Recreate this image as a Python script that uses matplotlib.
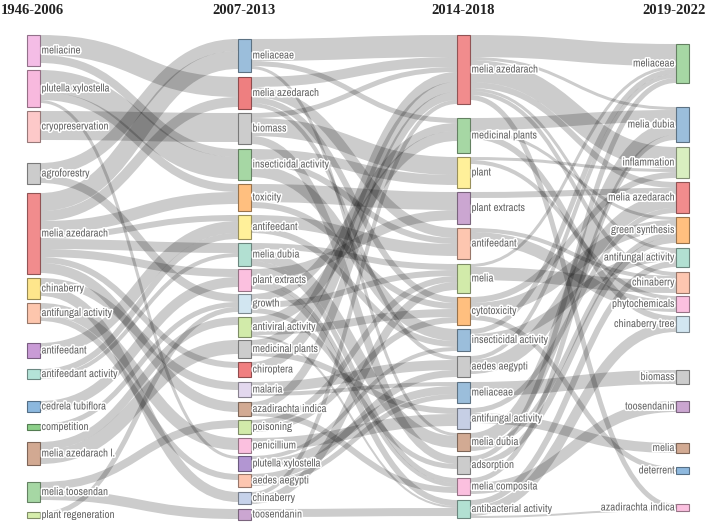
import matplotlib
matplotlib.use('Agg')
import matplotlib.pyplot as plt
from matplotlib import font_manager
from matplotlib.path import Path
from matplotlib.patches import PathPatch, Rectangle
import matplotlib.patheffects as pe
from matplotlib.colors import to_rgb

# Periods (columns)
periods = ['1946-2006', '2007-2013', '2014-2018', '2019-2022']

# Period 1 themes
p1_labels = ['meliacine', 'plutella xylostella', 'cryopreservation', 'agroforestry',
             'melia azedarach', 'chinaberry', 'antifungal activity', 'antifeedant',
             'antifeedant activity', 'cedrela tubiflora', 'competition',
             'melia azedarach l.', 'melia toosendan', 'plant regeneration']
p1_sizes = [31, 37, 31, 21, 81, 21, 20, 15, 10, 11, 6, 23, 20, 6]
p1_colors = ['#f4bde6', '#f8b9de', '#fdc9c9', '#cccccc', '#f18c8d', '#fee68c', '#fdc6ad',
             '#c99bd6', '#b4e3d8', '#8cb8de', '#8ccf89', '#d2a992', '#a6d7a4', '#d6edac']

# Period 2 themes
p2_labels = ['meliaceae', 'melia azedarach', 'biomass', 'insecticidal activity', 'toxicity',
             'antifeedant', 'melia dubia', 'plant extracts', 'growth', 'antiviral activity',
             'medicinal plants', 'chiroptera', 'malaria', 'azadirachta indica', 'poisoning',
             'penicillium', 'plutella xylostella', 'aedes aegypti', 'chinaberry', 'toosendanin']
p2_sizes = [33, 32, 31, 31, 27, 24, 23, 22, 19, 20, 18, 15, 15, 14, 14, 15, 15, 13, 12, 11]
p2_colors = ['#9bbedb', '#ee7f80', '#cccccc', '#a6d7a4', '#ffbf7f', '#fff09a', '#b2e0d2',
             '#fbc0df', '#d2e6f1', '#d2ebaa', '#cccccc', '#f07f80', '#e3d8ee', '#d2aa93',
             '#d2ebaa', '#fbc0df', '#b296d2', '#fdc6b0', '#c6d2ea', '#cba6d1']

# Period 3 themes
p3_labels = ['melia azedarach', 'medicinal plants', 'plant', 'plant extracts', 'antifeedant',
             'melia', 'cytotoxicity', 'insecticidal activity', 'aedes aegypti', 'meliaceae',
             'antifungal activity', 'melia dubia', 'adsorption', 'melia composita',
             'antibacterial activity']
p3_sizes = [69, 35, 31, 32, 31, 29, 28, 22, 21, 21, 21, 18, 18, 17, 18]
p3_colors = ['#f18c8d', '#a6d7a4', '#fff09a', '#cba6d1', '#fdc6b0', '#d2ebaa', '#ffbf7f',
             '#9bbedb', '#cccccc', '#9bbedb', '#c6cfe5', '#d2aa93', '#cccccc', '#fbc0df',
             '#b2e0d2']

# Period 4 themes
p4_labels = ['meliaceae', 'melia dubia', 'inflammation', 'melia azedarach', 'green synthesis',
             'antifungal activity', 'chinaberry', 'phytochemicals', 'chinaberry tree',
             'biomass', 'toosendanin', 'melia', 'deterrent', 'azadirachta indica']
p4_sizes = [39, 35, 31, 31, 26, 19, 21, 16, 16, 14, 11, 10, 7, 7]
p4_colors = ['#a6d7a4', '#9bbedb', '#d9efc0', '#f18c8d', '#ffbf7f', '#b2e0d2', '#fdc6b0',
             '#fbc0df', '#d2e6f1', '#cccccc', '#cba6d1', '#d2aa93', '#8fb9de', '#fbc0df']

# Flows between consecutive periods: (source, target, weight)
links_12 = [
    ('meliacine', 'melia azedarach', 20), ('meliacine', 'insecticidal activity', 8),
    ('plutella xylostella', 'insecticidal activity', 22), ('plutella xylostella', 'toxicity', 8),
    ('plutella xylostella', 'plutella xylostella', 3),
    ('cryopreservation', 'biomass', 29),
    ('agroforestry', 'meliaceae', 12), ('agroforestry', 'growth', 8),
    ('melia azedarach', 'meliaceae', 18), ('melia azedarach', 'melia azedarach', 10),
    ('melia azedarach', 'toxicity', 12), ('melia azedarach', 'antifeedant', 6),
    ('melia azedarach', 'melia dubia', 10), ('melia azedarach', 'plant extracts', 8),
    ('melia azedarach', 'chiroptera', 6), ('melia azedarach', 'azadirachta indica', 10),
    ('chinaberry', 'chinaberry', 10), ('chinaberry', 'malaria', 8),
    ('antifungal activity', 'penicillium', 12), ('antifungal activity', 'aedes aegypti', 6),
    ('antifeedant', 'antifeedant', 12),
    ('antifeedant activity', 'antifeedant', 6), ('antifeedant activity', 'melia dubia', 4),
    ('cedrela tubiflora', 'plant extracts', 10),
    ('competition', 'growth', 5),
    ('melia azedarach l.', 'medicinal plants', 14), ('melia azedarach l.', 'antiviral activity', 8),
    ('melia toosendan', 'poisoning', 8), ('melia toosendan', 'toosendanin', 10),
    ('plant regeneration', 'growth', 5),
]

links_23 = [
    ('meliaceae', 'melia azedarach', 22), ('meliaceae', 'medicinal plants', 5),
    ('meliaceae', 'melia dubia', 3),
    ('melia azedarach', 'melia azedarach', 10), ('melia azedarach', 'antifeedant', 10),
    ('melia azedarach', 'cytotoxicity', 6), ('melia azedarach', 'aedes aegypti', 4),
    ('biomass', 'plant', 18), ('biomass', 'melia azedarach', 5), ('biomass', 'adsorption', 8),
    ('insecticidal activity', 'plant', 10), ('insecticidal activity', 'insecticidal activity', 12),
    ('insecticidal activity', 'antifeedant', 6),
    ('toxicity', 'plant extracts', 18), ('toxicity', 'cytotoxicity', 6),
    ('antifeedant', 'antifeedant', 12), ('antifeedant', 'insecticidal activity', 6),
    ('melia dubia', 'melia dubia', 12), ('melia dubia', 'melia', 6),
    ('melia dubia', 'melia composita', 5),
    ('plant extracts', 'plant extracts', 10), ('plant extracts', 'antibacterial activity', 6),
    ('plant extracts', 'melia composita', 4),
    ('growth', 'medicinal plants', 8), ('growth', 'melia', 6), ('growth', 'adsorption', 5),
    ('antiviral activity', 'medicinal plants', 10), ('antiviral activity', 'cytotoxicity', 8),
    ('antiviral activity', 'antibacterial activity', 2),
    ('medicinal plants', 'melia azedarach', 10), ('medicinal plants', 'antifungal activity', 6),
    ('chiroptera', 'melia azedarach', 10),
    ('malaria', 'aedes aegypti', 10), ('malaria', 'meliaceae', 4),
    ('azadirachta indica', 'melia azedarach', 8), ('azadirachta indica', 'melia composita', 6),
    ('poisoning', 'cytotoxicity', 6), ('poisoning', 'melia', 6),
    ('penicillium', 'antifungal activity', 12),
    ('plutella xylostella', 'insecticidal activity', 4), ('plutella xylostella', 'meliaceae', 8),
    ('aedes aegypti', 'aedes aegypti', 7), ('aedes aegypti', 'meliaceae', 5),
    ('chinaberry', 'melia', 8), ('chinaberry', 'melia azedarach', 4),
    ('toosendanin', 'antibacterial activity', 8),
]

links_34 = [
    ('melia azedarach', 'meliaceae', 22), ('melia azedarach', 'inflammation', 22),
    ('melia azedarach', 'melia azedarach', 6), ('melia azedarach', 'antifungal activity', 3),
    ('melia azedarach', 'chinaberry', 4), ('melia azedarach', 'melia dubia', 3),
    ('melia azedarach', 'azadirachta indica', 5),
    ('medicinal plants', 'melia dubia', 12), ('medicinal plants', 'green synthesis', 3),
    ('medicinal plants', 'chinaberry tree', 6),
    ('plant', 'inflammation', 3), ('plant', 'phytochemicals', 4),
    ('plant extracts', 'melia azedarach', 6),
    ('antifeedant', 'phytochemicals', 12), ('antifeedant', 'chinaberry', 4),
    ('melia', 'chinaberry', 13), ('melia', 'meliaceae', 3),
    ('cytotoxicity', 'green synthesis', 12), ('cytotoxicity', 'inflammation', 6),
    ('cytotoxicity', 'deterrent', 5),
    ('insecticidal activity', 'meliaceae', 5), ('insecticidal activity', 'antifungal activity', 10),
    ('aedes aegypti', 'melia azedarach', 14), ('aedes aegypti', 'meliaceae', 4),
    ('meliaceae', 'biomass', 14),
    ('antifungal activity', 'melia azedarach', 5), ('antifungal activity', 'melia', 10),
    ('melia dubia', 'melia dubia', 13), ('melia dubia', 'green synthesis', 5),
    ('adsorption', 'meliaceae', 5), ('adsorption', 'green synthesis', 6),
    ('melia composita', 'melia dubia', 5), ('melia composita', 'toosendanin', 11),
    ('antibacterial activity', 'antifungal activity', 6),
    ('antibacterial activity', 'chinaberry tree', 10),
    ('antibacterial activity', 'azadirachta indica', 2),
]

# ---- layout (pixel units, figure is 708 x 529) ----
col_x = [27, 238, 457, 676]
node_w = 13
gaps = [
    [35, 4, 4, 21, 9, 4, 4, 20, 11, 22, 12, 12, 17, 10],
    [39, 5, 4, 5, 4, 4, 4, 3, 3, 4, 3, 4, 5, 5, 4, 4, 3, 3, 5, 5],
    [35, 14, 4, 4, 4, 5, 4, 4, 5, 5, 5, 4, 5, 4, 5],
    [44, 24, 5, 4, 4, 5, 5, 3, 4, 38, 17, 31, 14, 30],
]

columns = [(p1_labels, p1_sizes, p1_colors), (p2_labels, p2_sizes, p2_colors),
           (p3_labels, p3_sizes, p3_colors), (p4_labels, p4_sizes, p4_colors)]

nodes = []
for ci, (labels, sizes, colors) in enumerate(columns):
    col = {}
    y = 0
    for lab, s, c, g in zip(labels, sizes, colors, gaps[ci]):
        y += g
        col[lab] = {'y0': y, 'h': s, 'color': c}
        y += s
    nodes.append(col)

# pick a narrow sans font if one is installed
label_family, label_stretch, label_size = 'Liberation Sans', 'normal', 7.2
for f in font_manager.fontManager.ttflist:
    nm = f.name.lower()
    if ('narrow' in nm or 'condensed' in nm) and 'mono' not in nm and 'serif' not in nm \
            and f.weight in (400, 'normal', 'regular') and f.style == 'normal':
        label_family, label_size = f.name, 7.9
        break
    if f.name == 'DejaVu Sans' and str(f.stretch) in ('condensed', 'semi-condensed') \
            and f.style == 'normal' and f.weight in (400, 'normal'):
        label_family, label_stretch, label_size = 'DejaVu Sans', 'condensed', 7.6

fig = plt.figure(figsize=(7.08, 5.29), dpi=100)
ax = fig.add_axes([0, 0, 1, 1])
ax.set_xlim(0, 708)
ax.set_ylim(529, 0)
ax.axis('off')

px2pt = 72 / 100


def draw_links(links, src, tgt, xs, xt):
    out_off = {k: 0 for k in src}
    in_off = {k: 0 for k in tgt}
    ys_map = {}
    for i, (s, t, v) in sorted(enumerate(links), key=lambda e: (src[e[1][0]]['y0'], tgt[e[1][1]]['y0'])):
        ys_map[i] = src[s]['y0'] + out_off[s] + v / 2
        out_off[s] += v
    yt_map = {}
    for i, (s, t, v) in sorted(enumerate(links), key=lambda e: (tgt[e[1][1]]['y0'], src[e[1][0]]['y0'])):
        yt_map[i] = tgt[t]['y0'] + in_off[t] + v / 2
        in_off[t] += v
    xm = (xs + xt) / 2
    for i, (s, t, v) in enumerate(links):
        ys, yt = ys_map[i], yt_map[i]
        path = Path([(xs, ys), (xm, ys), (xm, yt), (xt, yt)],
                    [Path.MOVETO, Path.CURVE4, Path.CURVE4, Path.CURVE4])
        ax.add_patch(PathPatch(path, facecolor='none', edgecolor=(0, 0, 0, 0.2),
                               lw=v * px2pt, capstyle='butt', zorder=1))


all_links = [links_12, links_23, links_34]
for ci, links in enumerate(all_links):
    draw_links(links, nodes[ci], nodes[ci + 1], col_x[ci] + node_w, col_x[ci + 1])

halo = [pe.withStroke(linewidth=2.2, foreground='white')]
for ci, col in enumerate(nodes):
    for lab, n in col.items():
        r, g, b = to_rgb(n['color'])
        ax.add_patch(Rectangle((col_x[ci], n['y0']), node_w, n['h'], facecolor=n['color'],
                               edgecolor=(r * 0.6, g * 0.6, b * 0.6), lw=0.8, zorder=2))
        yc = n['y0'] + n['h'] / 2
        if ci < 3:
            x, ha = col_x[ci] + node_w + 1.5, 'left'
        else:
            x, ha = col_x[ci] - 1.5, 'right'
        ax.text(x, yc, lab, ha=ha, va='center', fontsize=label_size,
                family=[label_family, 'DejaVu Sans'], fontstretch=label_stretch,
                color='#666666', path_effects=halo, zorder=3)

title_kw = dict(fontsize=10.5, fontweight='bold', family='Liberation Serif', color='#222222',
                va='center')
ax.text(1, 10, periods[0], ha='left', **title_kw)
ax.text(244, 10, periods[1], ha='center', **title_kw)
ax.text(463, 10, periods[2], ha='center', **title_kw)
ax.text(706, 10, periods[3], ha='right', **title_kw)

fig.savefig('out.png', dpi=100)
